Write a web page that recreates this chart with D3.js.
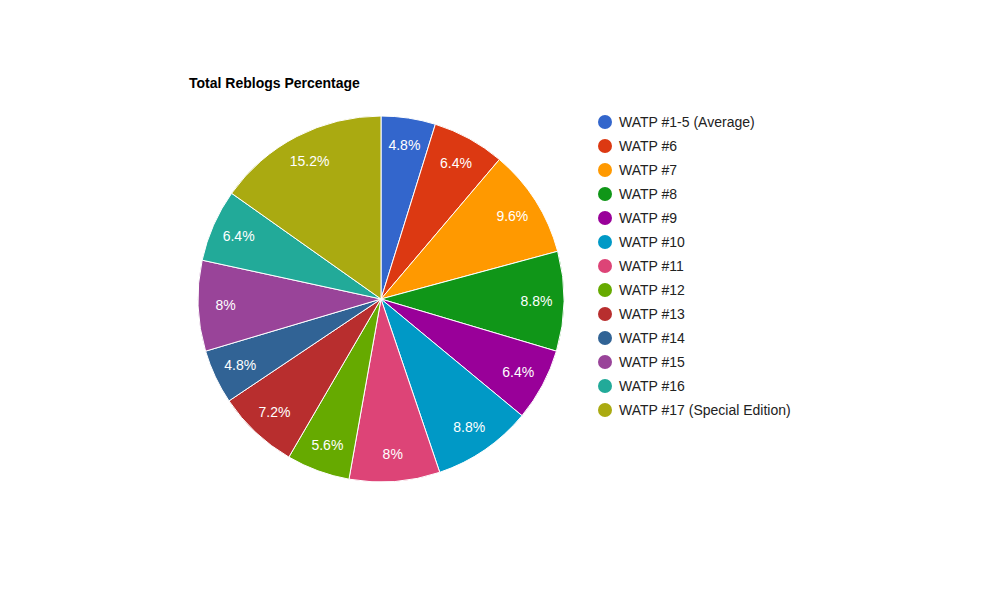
<!DOCTYPE html>
<html lang="en">
<head>
<meta charset="UTF-8">
<script src="https://d3js.org/d3.v7.min.js"></script>
<style>
  html, body { margin: 0; padding: 0; background: #fff; font-family: Arial, "Liberation Sans", sans-serif; }
</style>
</head>
<body>
<div id="chart"></div>
<script>
const labels = ["WATP #1-5 (Average)", "WATP #6", "WATP #7", "WATP #8", "WATP #9", "WATP #10",
  "WATP #11", "WATP #12", "WATP #13", "WATP #14", "WATP #15", "WATP #16", "WATP #17 (Special Edition)"];
const values = [4.8, 6.4, 9.6, 8.8, 6.4, 8.8, 8, 5.6, 7.2, 4.8, 8, 6.4, 15.2];
const colors = ["#3366cc", "#dc3912", "#ff9900", "#109618", "#990099", "#0099c6", "#dd4477",
  "#66aa00", "#b82e2e", "#316395", "#994499", "#22aa99", "#aaaa11"];

const width = 1000, height = 600;
const cx = 381, cy = 299, radius = 183;

const svg = d3.select("#chart").append("svg")
  .attr("width", width).attr("height", height);

// title
svg.append("text")
  .attr("x", 189).attr("y", 88)
  .style("font-size", "14px").style("font-weight", "bold")
  .text("Total Reblogs Percentage");

const pie = d3.pie().sort(null).value(d => d);
const arcs = pie(values);
const arc = d3.arc().innerRadius(0).outerRadius(radius);
const labelArc = d3.arc().innerRadius(radius * 0.85).outerRadius(radius * 0.85);

const g = svg.append("g").attr("transform", `translate(${cx},${cy})`);

g.selectAll("path")
  .data(arcs).enter()
  .append("path")
  .attr("d", arc)
  .attr("fill", (d, i) => colors[i])
  .attr("stroke", "#fff")
  .attr("stroke-width", 1);

g.selectAll("text")
  .data(arcs).enter()
  .append("text")
  .attr("transform", d => `translate(${labelArc.centroid(d)})`)
  .attr("text-anchor", "middle")
  .attr("dy", "0.35em")
  .style("font-size", "14px")
  .style("fill", "#fff")
  .text(d => d.data + "%");

// legend
const legend = svg.append("g").attr("transform", "translate(605,122)");
const item = legend.selectAll("g")
  .data(labels).enter()
  .append("g")
  .attr("transform", (d, i) => `translate(0,${i * 24})`);
item.append("circle").attr("r", 7).attr("fill", (d, i) => colors[i]);
item.append("text")
  .attr("x", 14).attr("dy", "0.35em")
  .style("font-size", "14px").style("fill", "#222")
  .text(d => d);
</script>
</body>
</html>
